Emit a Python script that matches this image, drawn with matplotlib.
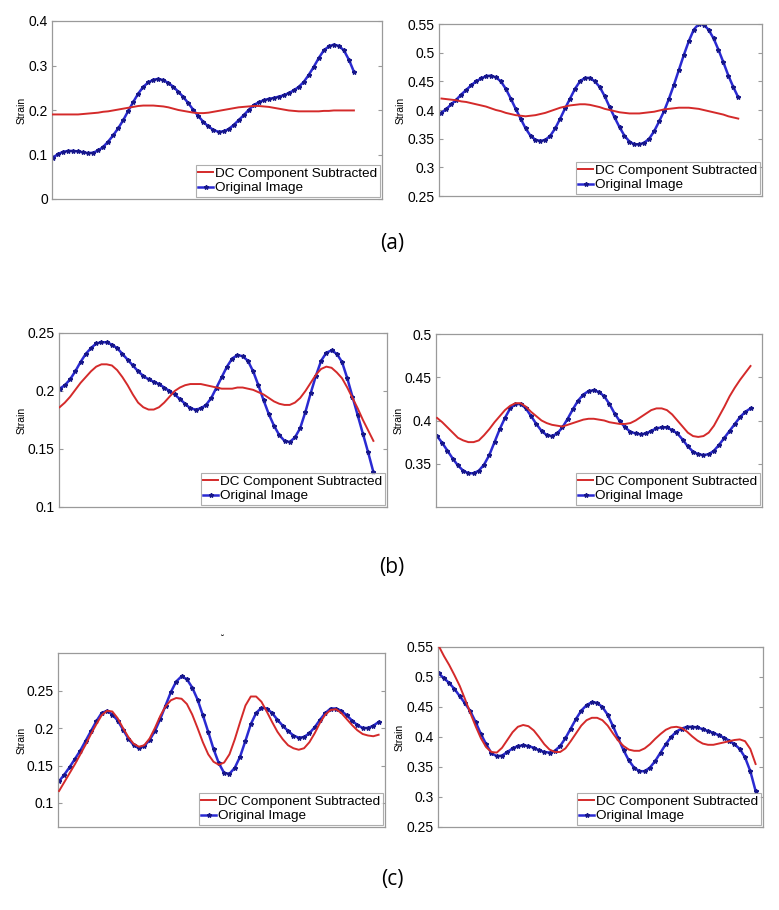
import numpy as np
import matplotlib
matplotlib.use("Agg")
import matplotlib.pyplot as plt
from matplotlib.ticker import FuncFormatter

# ---------------- data ----------------
labels_series = ["DC Component Subtracted", "Original Image"]
panel_labels = ["(a)", "(b)", "(c)"]

# (a) left
a1_dc = [0.190, 0.190, 0.190, 0.190, 0.190, 0.190, 0.191, 0.192, 0.193, 0.194, 0.196,
         0.197, 0.199, 0.201, 0.203, 0.205, 0.207, 0.209, 0.210, 0.210, 0.210, 0.209,
         0.208, 0.206, 0.203, 0.200, 0.198, 0.196, 0.194, 0.193, 0.193, 0.194, 0.196,
         0.198, 0.200, 0.202, 0.204, 0.206, 0.207, 0.208, 0.209, 0.209, 0.208, 0.207,
         0.205, 0.203, 0.201, 0.199, 0.198, 0.197, 0.197, 0.197, 0.197, 0.197, 0.198,
         0.198, 0.199, 0.199, 0.199, 0.199, 0.199]
a1_orig = [0.093, 0.101, 0.106, 0.108, 0.108, 0.107, 0.105, 0.103, 0.104, 0.109, 0.117,
           0.129, 0.143, 0.159, 0.177, 0.198, 0.218, 0.237, 0.252, 0.262, 0.268, 0.270,
           0.267, 0.261, 0.252, 0.241, 0.229, 0.215, 0.200, 0.186, 0.173, 0.163, 0.155,
           0.151, 0.152, 0.157, 0.166, 0.177, 0.188, 0.200, 0.211, 0.217, 0.222, 0.225,
           0.227, 0.230, 0.233, 0.238, 0.244, 0.252, 0.263, 0.279, 0.297, 0.317, 0.334,
           0.343, 0.347, 0.344, 0.334, 0.313, 0.286]
# (a) right
a2_dc = [0.420, 0.419, 0.418, 0.417, 0.415, 0.414, 0.412, 0.410, 0.408, 0.406, 0.403,
         0.400, 0.398, 0.395, 0.393, 0.391, 0.390, 0.389, 0.390, 0.391, 0.393, 0.395,
         0.398, 0.401, 0.404, 0.406, 0.408, 0.409, 0.410, 0.410, 0.409, 0.407, 0.405,
         0.402, 0.400, 0.398, 0.396, 0.395, 0.394, 0.394, 0.394, 0.395, 0.396, 0.397,
         0.399, 0.401, 0.402, 0.403, 0.404, 0.404, 0.404, 0.403, 0.402, 0.400, 0.398,
         0.396, 0.394, 0.392, 0.389, 0.387, 0.385]
a2_orig = [0.395, 0.402, 0.410, 0.418, 0.427, 0.435, 0.443, 0.450, 0.455, 0.459, 0.460,
           0.457, 0.450, 0.437, 0.420, 0.402, 0.385, 0.368, 0.355, 0.348, 0.346, 0.348,
           0.355, 0.368, 0.385, 0.403, 0.420, 0.437, 0.450, 0.456, 0.456, 0.450, 0.440,
           0.424, 0.405, 0.387, 0.370, 0.355, 0.345, 0.340, 0.340, 0.343, 0.350, 0.363,
           0.380, 0.398, 0.420, 0.444, 0.470, 0.496, 0.520, 0.540, 0.550, 0.549, 0.540,
           0.525, 0.505, 0.483, 0.460, 0.440, 0.422]
# (b) left
b1_dc = [0.186, 0.190, 0.195, 0.201, 0.207, 0.212, 0.217, 0.221, 0.223, 0.223, 0.222,
         0.218, 0.212, 0.205, 0.197, 0.190, 0.186, 0.184, 0.184, 0.186, 0.190, 0.195,
         0.200, 0.203, 0.205, 0.206, 0.206, 0.206, 0.205, 0.204, 0.203, 0.202, 0.202,
         0.202, 0.203, 0.203, 0.202, 0.201, 0.199, 0.197, 0.194, 0.191, 0.189, 0.188,
         0.188, 0.190, 0.194, 0.200, 0.207, 0.214, 0.219, 0.221, 0.220, 0.216, 0.211,
         0.203, 0.194, 0.185, 0.175, 0.166, 0.157]
b1_orig = [0.202, 0.205, 0.210, 0.217, 0.225, 0.232, 0.237, 0.241, 0.242, 0.242, 0.240,
           0.237, 0.232, 0.227, 0.222, 0.217, 0.213, 0.210, 0.208, 0.206, 0.203, 0.200,
           0.197, 0.193, 0.189, 0.185, 0.184, 0.185, 0.188, 0.194, 0.203, 0.212, 0.221,
           0.228, 0.231, 0.230, 0.226, 0.217, 0.205, 0.192, 0.180, 0.170, 0.162, 0.157,
           0.156, 0.160, 0.168, 0.182, 0.198, 0.213, 0.226, 0.233, 0.235, 0.232, 0.225,
           0.211, 0.195, 0.179, 0.163, 0.147, 0.130]
# (b) right
b2_dc = [0.403, 0.398, 0.392, 0.386, 0.380, 0.377, 0.375, 0.375, 0.377, 0.383, 0.390,
         0.398, 0.405, 0.412, 0.417, 0.420, 0.420, 0.416, 0.410, 0.405, 0.400, 0.397,
         0.395, 0.394, 0.393, 0.395, 0.397, 0.399, 0.401, 0.402, 0.402, 0.401, 0.400,
         0.398, 0.397, 0.396, 0.396, 0.397, 0.400, 0.404, 0.408, 0.412, 0.414, 0.414,
         0.412, 0.407, 0.400, 0.393, 0.386, 0.382, 0.381, 0.382, 0.386, 0.394, 0.405,
         0.416, 0.428, 0.438, 0.447, 0.455, 0.463]
b2_orig = [0.382, 0.374, 0.365, 0.356, 0.348, 0.342, 0.339, 0.339, 0.342, 0.349, 0.360,
           0.375, 0.390, 0.403, 0.414, 0.419, 0.419, 0.414, 0.405, 0.396, 0.388, 0.383,
           0.382, 0.385, 0.392, 0.402, 0.413, 0.423, 0.430, 0.434, 0.435, 0.433, 0.428,
           0.419, 0.408, 0.399, 0.392, 0.387, 0.385, 0.384, 0.385, 0.388, 0.391, 0.392,
           0.392, 0.389, 0.385, 0.378, 0.370, 0.364, 0.361, 0.360, 0.361, 0.365, 0.372,
           0.380, 0.388, 0.396, 0.404, 0.410, 0.414]
# (c) left
c1_dc = [0.116, 0.128, 0.140, 0.152, 0.165, 0.178, 0.192, 0.205, 0.217, 0.223, 0.222,
         0.213, 0.200, 0.188, 0.179, 0.175, 0.177, 0.186, 0.200, 0.216, 0.229, 0.237,
         0.240, 0.239, 0.232, 0.218, 0.200, 0.181, 0.165, 0.155, 0.151, 0.154, 0.165,
         0.185, 0.208, 0.230, 0.242, 0.242, 0.235, 0.222, 0.208, 0.195, 0.185, 0.177,
         0.173, 0.171, 0.173, 0.181, 0.193, 0.207, 0.218, 0.224, 0.225, 0.220, 0.212,
         0.204, 0.197, 0.192, 0.190, 0.189, 0.191]
c1_orig = [0.129, 0.138, 0.148, 0.159, 0.170, 0.183, 0.196, 0.209, 0.220, 0.223, 0.218,
           0.210, 0.198, 0.186, 0.177, 0.173, 0.176, 0.184, 0.196, 0.212, 0.230, 0.248,
           0.262, 0.269, 0.265, 0.254, 0.238, 0.217, 0.195, 0.172, 0.153, 0.140, 0.139,
           0.147, 0.162, 0.183, 0.205, 0.220, 0.227, 0.226, 0.220, 0.211, 0.203, 0.196,
           0.190, 0.187, 0.188, 0.193, 0.201, 0.211, 0.220, 0.226, 0.226, 0.223, 0.217,
           0.210, 0.204, 0.200, 0.200, 0.203, 0.208]
# (c) right
c2_dc = [0.552, 0.535, 0.520, 0.503, 0.485, 0.463, 0.440, 0.418, 0.398, 0.383, 0.375,
         0.374, 0.382, 0.395, 0.408, 0.417, 0.420, 0.418, 0.411, 0.400, 0.388, 0.379,
         0.375, 0.375, 0.381, 0.393, 0.406, 0.419, 0.428, 0.432, 0.432, 0.428, 0.419,
         0.406, 0.394, 0.385, 0.379, 0.377, 0.377, 0.381, 0.388, 0.397, 0.405, 0.412,
         0.416, 0.417, 0.415, 0.409, 0.401, 0.394, 0.389, 0.387, 0.387, 0.389, 0.391,
         0.393, 0.395, 0.396, 0.393, 0.380, 0.355]
c2_orig = [0.506, 0.498, 0.490, 0.480, 0.468, 0.456, 0.443, 0.425, 0.405, 0.388, 0.373,
           0.368, 0.369, 0.375, 0.381, 0.385, 0.386, 0.385, 0.382, 0.378, 0.375, 0.374,
           0.377, 0.385, 0.398, 0.414, 0.430, 0.444, 0.453, 0.458, 0.457, 0.450, 0.437,
           0.418, 0.398, 0.378, 0.361, 0.349, 0.343, 0.343, 0.349, 0.360, 0.374, 0.388,
           0.400, 0.409, 0.414, 0.417, 0.417, 0.416, 0.413, 0.410, 0.407, 0.403, 0.399,
           0.394, 0.388, 0.380, 0.366, 0.343, 0.310]

ylims = [(0, 0.4), (0.25, 0.55), (0.1, 0.25), (0.3, 0.5), (0.068, 0.30), (0.25, 0.55)]
yticks = [[0, 0.1, 0.2, 0.3, 0.4],
          [0.25, 0.3, 0.35, 0.4, 0.45, 0.5, 0.55],
          [0.1, 0.15, 0.2, 0.25],
          [0.35, 0.4, 0.45, 0.5],
          [0.1, 0.15, 0.2, 0.25],
          [0.25, 0.3, 0.35, 0.4, 0.45, 0.5, 0.55]]
# x range in units of the sampled span (0..30)
xlims = [(-0.1, 32.8), (-0.25, 32.4), (-0.06, 31.3), (-0.1, 31.1), (-0.1, 30.6), (-0.06, 30.7)]

series = [(a1_dc, a1_orig), (a2_dc, a2_orig), (b1_dc, b1_orig),
          (b2_dc, b2_orig), (c1_dc, c1_orig), (c2_dc, c2_orig)]

# axes boxes in pixels: (left, top, right, bottom)
W, H = 779, 910
boxes = [(52, 21, 382, 199), (439, 24, 762, 196),
         (59, 333, 387, 507), (436, 334, 762, 507),
         (58, 653, 385, 827), (438, 647, 763, 827)]
ylabel_x = [-0.076, -0.105, -0.098, -0.098, -0.095, -0.102]

plt.rcParams['font.family'] = ['Liberation Sans', 'DejaVu Sans']
fig = plt.figure(figsize=(W / 100, H / 100), dpi=100)

red = '#d42a2a'
blue = '#2a2ad2'
spine_col = '#9a9a9a'

for i, (box, (dc, orig)) in enumerate(zip(boxes, series)):
    l, t, r, b = box
    ax = fig.add_axes([l / W, 1 - b / H, (r - l) / W, (b - t) / H])
    x1 = np.linspace(0, 30, len(dc))
    x2 = np.linspace(0, 30, len(orig))
    ax.plot(x1, dc, color=red, lw=1.4, label=labels_series[0], zorder=3)
    ax.plot(x2, orig, color=blue, lw=1.8, marker='*', ms=3.2, mec='#16168a',
            mfc='#16168a', label=labels_series[1], zorder=2)
    ax.set_xlim(*xlims[i])
    ax.set_ylim(*ylims[i])
    ax.set_yticks(yticks[i])
    ax.yaxis.set_major_formatter(FuncFormatter(lambda v, p: '%g' % round(v, 3)))
    ax.set_xticks([])
    ax.tick_params(axis='y', direction='in', length=3, width=0.8, color=spine_col,
                   labelsize=10, pad=3, right=True, labelcolor='black')
    for s in ax.spines.values():
        s.set_color(spine_col)
        s.set_linewidth(0.9)
    ax.set_ylabel('Strain', fontsize=7.5)
    ax.yaxis.set_label_coords(ylabel_x[i], 0.5)
    leg = ax.legend(loc='lower right', fontsize=9.7, frameon=True, fancybox=False,
                    edgecolor=spine_col, borderpad=0.2, labelspacing=0.15,
                    handlelength=1.1, handletextpad=0.15, borderaxespad=0.15)
    leg.get_frame().set_linewidth(0.8)

# panel labels
for lab, yp in zip(panel_labels, [243, 568, 880]):
    fig.text(392 / W, 1 - yp / H, lab, ha='center', va='center', fontsize=15,
             family=['Open Sans', 'DejaVu Sans'])

# small stray mark above (c) left panel
fig.text(222 / W, 1 - 640 / H, '\u02d8', ha='center', va='center', fontsize=7,
         family=['DejaVu Sans'])

fig.savefig('out.png', dpi=100, facecolor='white')
